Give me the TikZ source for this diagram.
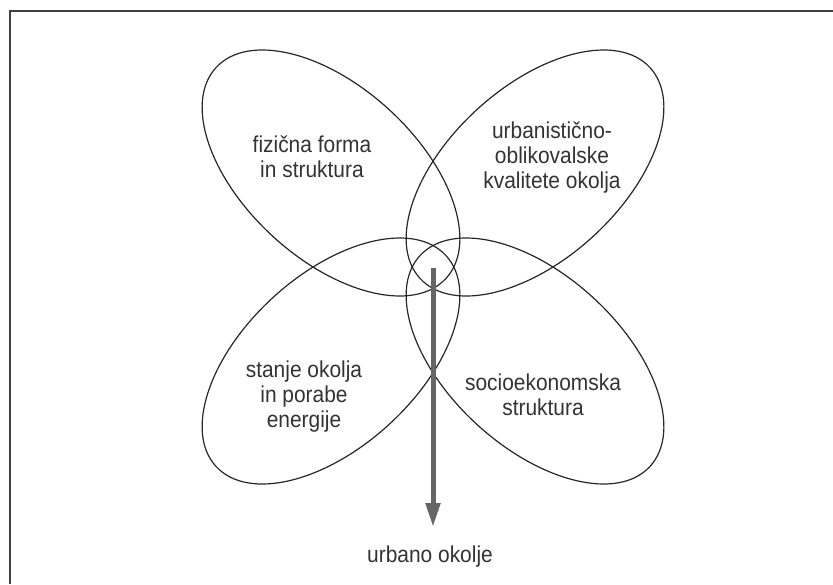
\documentclass[tikz,border=0pt]{standalone}
\usepackage{fontspec}
\setmainfont[FakeStretch=0.91]{Liberation Sans}
\usetikzlibrary{arrows.meta}

\begin{document}
\begin{tikzpicture}[x=1pt,y=1pt,
  petal/.style={draw=black!85, line width=1.2pt},
  label/.style={font=\fontsize{23}{25}\selectfont, text=black!80, align=center, anchor=base, inner sep=0pt},
  result/.style={draw=black!60, line width=5pt, -{Triangle[length=24pt,width=14pt]}}]

\useasboundingbox (0,0) rectangle (833,-584);

%% okvir
\draw[black!75, line width=2pt] (833,-11) --(9.5,-11) --(9.5,-584);

%% elipse
\draw[petal, rotate around={-42.5:(331,-173)}] (331,-173) ellipse [x radius=156, y radius=86];
\draw[petal, rotate around={42.5:(535,-173)}] (535,-173) ellipse [x radius=156, y radius=86];
\draw[petal, rotate around={42.5:(331,-361)}] (331,-361) ellipse [x radius=156, y radius=86];
\draw[petal, rotate around={-42.5:(535,-361)}] (535,-361) ellipse [x radius=156, y radius=86];

%% besedila (base = zadnja vrstica)
\node[label] (forma) at (312,-177) {fizična forma\\in struktura};
\node[label] (kvaliteta) at (552,-188) {urbanistično-\\oblikovalske\\kvalitete okolja};
\node[label] (stanje) at (304,-427) {stanje okolja\\in porabe\\energije};
\node[label] (socio) at (543,-415) {socioekonomska\\struktura};
\node[label] (okolje) at (430,-562) {urbano okolje};

% puscica
\coordinate (zacetek) at (433,-268);
\coordinate (konec) at (433,-527);
\draw[result] (zacetek) --(konec);

\end{tikzpicture}
\end{document}
